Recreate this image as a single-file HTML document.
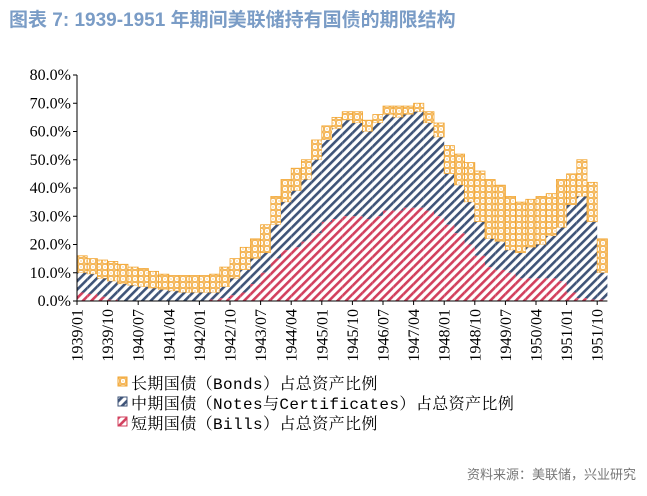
<!DOCTYPE html>
<html><head><meta charset="utf-8"><style>
body{margin:0;background:#fff;width:647px;height:491px;overflow:hidden;font-family:"Liberation Serif","Noto Serif CJK SC",serif}
</style></head><body>
<svg width="647" height="491">
<defs>
<pattern id="pO" width="6" height="6" patternUnits="userSpaceOnUse"><rect width="6" height="6" fill="#fff"/><rect x="0.5" y="0.5" width="5" height="5" fill="none" stroke="#f2a531" stroke-width="0.8"/><path d="M0.5 0.5L5.5 5.5M5.5 0.5L0.5 5.5" stroke="#f7cf8f" stroke-width="0.5"/></pattern>
<pattern id="pB" width="6" height="6" patternUnits="userSpaceOnUse" patternTransform="rotate(45)"><rect width="6" height="6" fill="#fff"/><rect width="2.6" height="6" fill="#3f5478"/></pattern>
<pattern id="pR" width="6" height="6" patternUnits="userSpaceOnUse" patternTransform="rotate(45)"><rect width="6" height="6" fill="#fff"/><rect width="2.6" height="6" fill="#d2405e"/></pattern>
</defs>
<text x="9" y="26" font-family="Liberation Sans,'Noto Sans CJK SC',sans-serif" font-size="19" font-weight="bold" fill="#7a9cc6">图表 7:  1939-1951 年期间美联储持有国债的期限结构</text>
<g id="plot"></g>
<g id="axes"></g>
<g font-family="'Liberation Mono','Noto Serif CJK SC',monospace" font-size="16" letter-spacing="0.4">
<rect x="118" y="377" width="9" height="9" fill="url(#pO)" stroke="#f2a531"/>
<text x="131" y="389">长期国债（Bonds）占总资产比例</text>
<rect x="118" y="397" width="9" height="9" fill="url(#pB)" stroke="#3f5478"/>
<text x="131" y="409">中期国债（Notes与Certificates）占总资产比例</text>
<rect x="118" y="417" width="9" height="9" fill="url(#pR)" stroke="#d2405e"/>
<text x="131" y="429">短期国债（Bills）占总资产比例</text>
</g>
<text x="636" y="479" text-anchor="end" font-family="Liberation Sans,'Noto Sans CJK SC',sans-serif" font-size="13" fill="#777">资料来源：美联储，兴业研究</text>
</svg>
<script>
const bills=[3,2.5,1.5,0.5,0,0,0,0,0,0,0,0,0,0.5,1,2,3,6,10,15,18,19,21,24,28,29,30,30,29,30,32,32,33,33,32,30,27,24,20,16,12,11,10,8,8,8,8,7,3,1,0.5,0.5];
const notesTop=[10,9.5,8,7,6,5.5,5,4.5,4,3.5,3,3,3,3,5,8,11,15,17,27,35,39,43,50,57,61,64,63,60,63,66,65,66,67,63,58,45,41,35,28,22,21,18,17,19,20,23,26,34,37,28,10];
const total=[16,15,14.5,14,13,12,11.5,10.5,9.5,9,9,9,9,9.5,12,15,19,22,27,37,43,47,50,57,62,65,67,67,64,66,69,69,69,70,67,63,55,52,49,46,43,41,37,35,36,37,38,43,45,50,42,22];
const yTicks=["0.0%","10.0%","20.0%","30.0%","40.0%","50.0%","60.0%","70.0%","80.0%"];
const xLabels=["1939/01","1939/10","1940/07","1941/04","1942/01","1942/10","1943/07","1944/04","1945/01","1945/10","1946/07","1947/04","1948/01","1948/10","1949/07","1950/04","1951/01","1951/10"];
const NS="http://www.w3.org/2000/svg";
const x0=77,pxM=3.4,y0=301,pxP=2.825;
const X=m=>x0+m*pxM, Y=v=>y0-v*pxP;
const plot=document.getElementById('plot'),axes=document.getElementById('axes');
function mk(tag,at,par){const e=document.createElementNS(NS,tag);for(const k in at)e.setAttribute(k,at[k]);par.appendChild(e);return e;}
for(let i=0;i<total.length;i++){
 const xa=X(i*3),w=3*pxM;
 const r1=mk('rect',{x:xa,y:Y(total[i]),width:w,height:Y(notesTop[i])-Y(total[i]),fill:'url(#pO)',stroke:'#f2a531','stroke-width':0.8},plot);
 
 
 const r2=mk('rect',{x:xa,y:Y(notesTop[i]),width:w,height:Y(bills[i])-Y(notesTop[i]),fill:'url(#pB)',stroke:'none'},plot);
 
 
 const r3=mk('rect',{x:xa,y:Y(bills[i]),width:w,height:y0-Y(bills[i]),fill:'url(#pR)',stroke:'none'},plot);
 
 
}
const ya=mk('line',{x1:x0,y1:Y(80),x2:x0,y2:y0,stroke:'#000'},axes);


const xa=mk('line',{x1:x0,y1:y0,x2:X(156),y2:y0,stroke:'#000'},axes);


yTicks.forEach((t,i)=>{
 mk('line',{x1:x0-4,y1:Y(i*10),x2:x0,y2:Y(i*10),stroke:'#000'},axes);
 const tx=mk('text',{x:x0-6,y:Y(i*10)+5,'text-anchor':'end','font-size':16},axes);
 tx.textContent=t;
 
 
});
xLabels.forEach((t,i)=>{
 const xx=X(i*9);
 mk('line',{x1:xx,y1:y0,x2:xx,y2:y0+4,stroke:'#000'},axes);
 const tx=mk('text',{x:0,y:0,'text-anchor':'end','font-size':16,transform:`translate(${xx+5.5},${y0+8}) rotate(-90)`},axes);
 tx.textContent=t;
 
 
});
</script>
</body></html>
